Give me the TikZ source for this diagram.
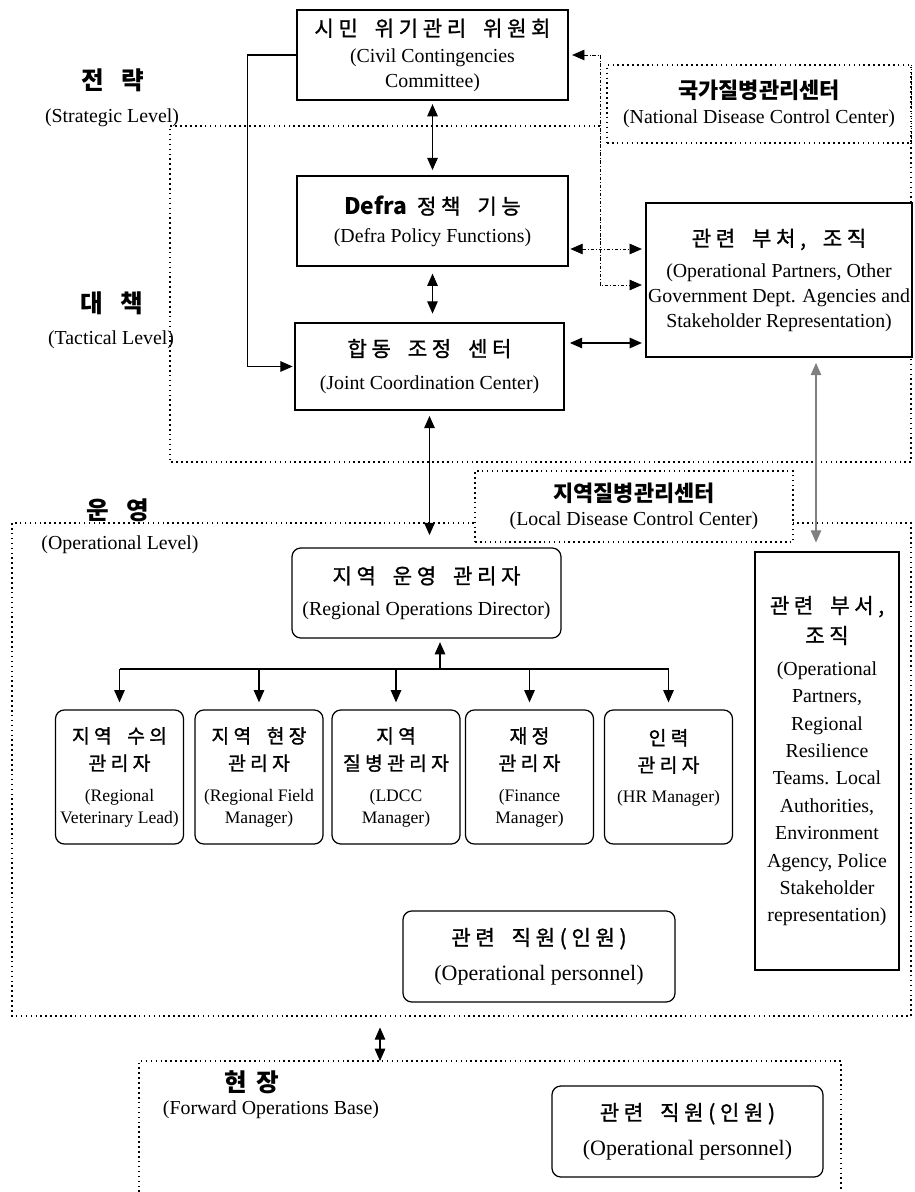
\documentclass[tikz,border=0pt]{standalone}
\usepackage{fontspec}
\setmainfont{Liberation Serif}
\newfontfamily\kr{Noto Sans CJK KR}[LetterSpace=22, WordSpace=1.8, FakeBold=1.2]
\newfontfamily\krh{Noto Sans CJK KR}
\usetikzlibrary{arrows.meta, positioning, calc}

\newcommand{\kfs}{12}
\newcommand{\kt}[1]{{\kr\fontsize{\kfs}{15}\selectfont #1}}
\newcommand{\kh}[1]{{\krh\bfseries\fontsize{12.5}{15}\selectfont #1}}

\begin{document}
\begin{tikzpicture}[x=0.02cm, y=-0.02cm,
    font=\fontsize{11.3}{14}\selectfont,
    >={Triangle[length=7pt, width=6pt]},
    wh/.style 2 args={minimum width=#1*0.02cm, minimum height=#2*0.02cm},
    box/.style={draw, line width=0.7pt, fill=white, align=center, inner sep=1pt},
    rbox/.style={box, rounded corners=5pt},
    mgr/.style={rbox, wh={128}{134}, font=\fontsize{10}{12.5}\selectfont\renewcommand{\kfs}{11}},
    region/.style={line width=0.9pt, dash pattern=on 0.9pt off 1.9pt},
    link/.style={line width=0.7pt},
    dlink/.style={line width=0.45pt, dash pattern=on 2pt off 1pt on 0.6pt off 1pt},
    lvl/.style={font=\krh\bfseries\fontsize{14}{15}\selectfont}]
  \useasboundingbox (0,0) rectangle (914,1192);

  % level regions
  \draw[region] (600,126) -- (170,126) -- (170,462) -- (911,462) -- (911,65);
  \draw[region] (12,523) rectangle (911,1016);
  \draw[region] (139,1192) -- (139,1061) -- (841,1061) -- (841,1192);

  \node[lvl] (strat) at (113,80) {전\hspace{.7em}략};
  \node (stratsub) at (112,118) {(Strategic Level)};
  \node[lvl] (tact) at (112,303) {대\hspace{.7em}책};
  \node (tactsub) at (111,340) {(Tactical Level)};
  \node[lvl] (oper) at (118,510) {운\hspace{.7em}영};
  \node (opersub) at (120,545) {(Operational Level)};
  \node[lvl] (fwd) at (252,1082) {현\hspace{.4em}장};
  \node (fwdsub) at (271,1110) {(Forward Operations Base)};

  % strategic / tactical boxes
  \node[box, wh={271}{90}] (ccc) at (432.5,55)
    {\kt{시민 위기관리 위원회}\\[1pt] (Civil Contingencies\\ Committee)};
  \node[box, wh={271}{90}] (defra) at (432.5,221)
    {{\krh\bfseries\fontsize{13}{15}\selectfont Defra}\hspace{.5em}\kt{정책 기능}\\[2pt] (Defra Policy Functions)};
  \node[box, wh={269}{87}] (jcc) at (429.5,366.5)
    {\kt{합동 조정 센터}\\[5pt] (Joint Coordination Center)};
  \node[box, wh={266}{154}] (oppart) at (779,280)
    {\kt{관련 부처, 조직}\\[4pt] (Operational Partners, Other\\ Government Dept. Agencies and\\ Stakeholder Representation)};
  \node[box, region, wh={304}{78}] (ndcc) at (759,104)
    {\kh{국가질병관리센터}\\ (National Disease Control Center)};

  % operational boxes
  \node[box, region, wh={318}{71}] (ldcc) at (634,506.5)
    {\kh{지역질병관리센터}\\ (Local Disease Control Center)};
  \node[rbox, wh={269}{90}] (dir) at (426.5,593)
    {\kt{지역 운영 관리자}\\[4pt] (Regional Operations Director)};
  \node[mgr] (vet) at (119.5,777) {\kt{지역 수의}\\[3pt] \kt{관리자}\\[5pt] (Regional\\ Veterinary Lead)};
  \node[mgr] (field) at (259,777) {\kt{지역 현장}\\[3pt] \kt{관리자}\\[5pt] (Regional Field\\ Manager)};
  \node[mgr] (ldccm) at (396,777) {\kt{지역}\\[3pt] \kt{질병관리자}\\[5pt] (LDCC\\ Manager)};
  \node[mgr] (fin) at (529.5,777) {\kt{재정}\\[3pt] \kt{관리자}\\[5pt] (Finance\\ Manager)};
  \node[mgr] (hr) at (668.5,777) {\kt{인력}\\[3pt] \kt{관리자}\\[5pt] (HR Manager)\\ \mbox{}};
  \node[box, wh={144}{418}, font=\fontsize{11.3}{15.6}\selectfont] (regpart) at (827,761)
    {\kt{관련 부서,}\\[1.5pt] \kt{조직}\\[2.5pt] (Operational\\ Partners,\\ Regional\\ Resilience\\ Teams. Local\\ Authorities,\\ Environment\\ Agency, Police\\ Stakeholder\\ representation)};
  \node[rbox, wh={272}{91}, font=\fontsize{12.5}{15}\selectfont] (pers) at (539,956.5)
    {\kt{관련 직원(인원)}\\[5pt] (Operational personnel)};
  \node[rbox, wh={271}{91}, font=\fontsize{12.5}{15}\selectfont] (fwdpers) at (687.5,1131.5)
    {\kt{관련 직원(인원)}\\[5pt] (Operational personnel)};

  % connectors
  \draw[link, ->, shorten >=1pt] (ccc.west) -- ++(-49,0) |- (jcc.west);
  \draw[link, <->, shorten <=2pt, shorten >=3pt] (ccc.south) -- (ccc.south |- defra.north);
  \draw[link, <->, shorten <=4pt, shorten >=5pt] (defra.south) -- (defra.south |- jcc.north);
  \coordinate (bend) at (600,285);
  \draw[dlink, <->, shorten <=2pt, shorten >=2pt] (ccc.east) -| (bend) -- (bend -| oppart.west);
  \draw[dlink, <->, shorten <=1pt, shorten >=2pt] (defra.east |- 0,249) -- (oppart.west |- 0,249);
  \draw[link, <->, shorten <=3pt, shorten >=2pt] (jcc.east |- 0,343) -- (oppart.west |- 0,343);
  \draw[link, <->, shorten <=3pt, shorten >=7pt] (jcc.south) -- (jcc.south |- dir.north);
  \draw[link, gray, <->, shorten <=3pt, shorten >=5pt] (816,0 |- oppart.south) -- (816,0 |- regpart.north);

  \coordinate (bus) at (440,669);
  \draw[link, ->, shorten >=2pt] (bus) -- (bus |- dir.south);
  \draw[link] (vet.north |- bus) -- (hr.north |- bus);
  \foreach \m in {vet,field,ldccm,fin,hr}{
    \draw[link, ->, shorten >=4pt] (\m.north |- bus) -- (\m.north);
  }

  \coordinate (opbot) at (380,1016);
  \coordinate (fwdtop) at (380,1061);
  \draw[link, <->, shorten <=6.5pt] (opbot) -- (fwdtop);
\end{tikzpicture}
\end{document}
